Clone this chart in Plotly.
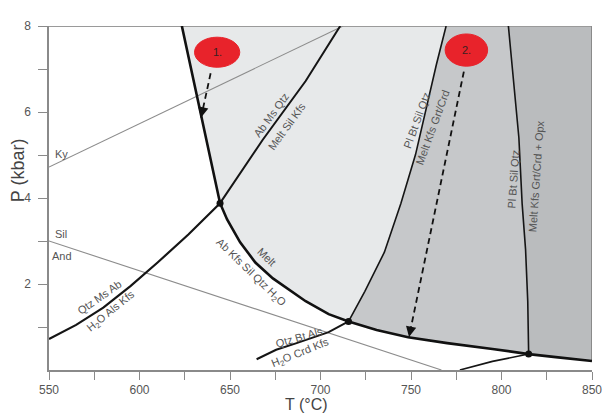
import plotly.graph_objects as go

# ---------------- axes ----------------
T_range = [550, 850]
P_range = [0, 8]
T_ticks = [550, 575, 600, 625, 650, 675, 700, 725, 750, 775, 800, 825, 850]
T_ticklabels = ["550", "", "600", "", "650", "", "700", "", "750", "", "800", "", "850"]
P_ticks = [1, 2, 3, 4, 5, 6, 7, 8]
P_ticklabels = ["", "2", "", "4", "", "6", "", "8"]

# ---------------- reaction curves (T in °C, P in kbar) ----------------
# Melt = Ab Kfs Sil Qtz H2O (solidus) and its continuation
solidus_T = [623.4, 628.5, 633.8, 639.2, 644.5, 648.4, 655.6, 664.0, 673.7, 691.8, 704.5,
             715.5, 731.0, 748.4, 770.0, 795.0, 815.0, 830.0, 850.0]
solidus_P = [8.0, 7.0, 5.9, 4.85, 3.88, 3.5, 2.97, 2.5, 2.13, 1.6, 1.3,
             1.13, 0.93, 0.76, 0.625, 0.49, 0.37, 0.3, 0.21]
inv1, inv2, inv3 = 4, 11, 16   # indices of the invariant points on the solidus

# Qtz Ms Ab + H2O = Als Kfs
ms_low_T = [550.0, 565.0, 580.0, 595.0, 610.0, 627.0, 644.5]
ms_low_P = [0.72, 1.05, 1.45, 1.95, 2.5, 3.15, 3.88]
# Ab Ms Qtz = Melt Sil Kfs
ms_high_T = [644.5, 668.0, 691.8, 710.9]
ms_high_P = [3.88, 5.35, 6.72, 8.0]
# Pl Bt Sil Qtz = Melt Kfs Grt/Crd
grt_T = [715.5, 724.5, 735.3, 744.4, 752.5, 758.5, 764.0, 769.4]
grt_P = [1.13, 1.83, 2.74, 3.87, 5.01, 6.1, 7.1, 8.0]
# Pl Bt Sil Qtz = Melt Kfs Grt/Crd + Opx
opx_T = [803.8, 806.5, 809.6, 811.4, 813.3, 814.5, 815.0]
opx_P = [8.0, 6.8, 5.4, 3.87, 2.8, 1.6, 0.37]
opx_low_T = [815.0, 795.0, 777.0]
opx_low_P = [0.37, 0.2, 0.0]
# Qtz Bt Als + H2O = Crd Kfs
crd_T = [664.7, 675.5, 686.4, 704.5, 715.5]
crd_P = [0.25, 0.47, 0.62, 0.88, 1.13]
# Aluminosilicate triple-point lines
kysil_T = [550.0, 712.5]
kysil_P = [4.72, 8.0]
andsil_T = [550.0, 766.8]
andsil_P = [3.0, 0.0]

# ---------------- P-T path markers ----------------
path_labels = ["1.", "2."]
path_label_T = [642.9, 780.6]
path_label_P = [7.39, 7.44]
path_label_wT = [25.0, 23.5]
path_label_hP = [0.70, 0.75]
path1_T = [639.3, 634.0]
path1_P = [6.9, 5.87]
path2_T = [779.2, 748.9]
path2_P = [6.94, 0.77]

# ---------------- region fills ----------------
light_T = solidus_T[:inv2 + 1] + grt_T[1:]
light_P = solidus_P[:inv2 + 1] + grt_P[1:]
mid_T = grt_T + opx_T + solidus_T[inv2:inv3 + 1][::-1]
mid_P = grt_P + opx_P + solidus_P[inv2:inv3 + 1][::-1]
dark_T = opx_T + solidus_T[inv3:] + [T_range[1]]
dark_P = opx_P + solidus_P[inv3:] + [P_range[1]]

fig = go.Figure()


def fill(xs, ys, color):
    fig.add_trace(go.Scatter(x=xs, y=ys, fill="toself", fillcolor=color, mode="lines",
                             line=dict(width=0), hoverinfo="skip"))


def line(xs, ys, color="#111", width=2.0, dash=None):
    fig.add_trace(go.Scatter(x=xs, y=ys, mode="lines",
                             line=dict(color=color, width=width, dash=dash), hoverinfo="skip"))


fill(light_T, light_P, "#e7e9ea")
fill(mid_T, mid_P, "#c6c8ca")
fill(dark_T, dark_P, "#babcbe")

# frame (top and right)
line(T_range, [P_range[1], P_range[1]], "#9a9a9a", 2)
line([T_range[1], T_range[1]], [solidus_P[-1], P_range[1]], "#8a8a8a", 2)

# aluminosilicate lines
line(kysil_T, kysil_P, "#8c8c8c", 1.1)
line(andsil_T, andsil_P, "#8c8c8c", 1.1)

# reactions
line(ms_low_T, ms_low_P, "#151515", 2.2)
line(ms_high_T, ms_high_P, "#151515", 2.0)
line(grt_T, grt_P, "#151515", 1.6)
line(opx_T, opx_P, "#151515", 1.6)
line(opx_low_T, opx_low_P, "#151515", 1.6)
line(crd_T, crd_P, "#151515", 2.0)
line(solidus_T, solidus_P, "#111", 2.6)

# invariant points
fig.add_trace(go.Scatter(x=[solidus_T[inv1], solidus_T[inv2], solidus_T[inv3]],
                         y=[solidus_P[inv1], solidus_P[inv2], solidus_P[inv3]],
                         mode="markers", marker=dict(color="#111", size=7), hoverinfo="skip"))

# dashed P-T paths with arrowheads (short solid stub under the head)
for pT, pP, frac in [(path1_T, path1_P, 0.12), (path2_T, path2_P, 0.025)]:
    line(pT, pP, "#111", 1.8, "6px,4px")
    fig.add_annotation(x=pT[1], y=pP[1],
                       ax=pT[1] + (pT[0] - pT[1]) * frac, ay=pP[1] + (pP[0] - pP[1]) * frac,
                       xref="x", yref="y", axref="x", ayref="y", text="", showarrow=True,
                       arrowhead=2, arrowsize=1.3, arrowwidth=1.6, arrowcolor="#111", standoff=0)

# red ellipses with labels
for lab, cT, cP, wT, hP in zip(path_labels, path_label_T, path_label_P, path_label_wT, path_label_hP):
    fig.add_shape(type="circle", xref="x", yref="y", x0=cT - wT / 2, x1=cT + wT / 2,
                  y0=cP - hP / 2, y1=cP + hP / 2, fillcolor="#e8232b", line=dict(color="#e8232b", width=1))
    fig.add_annotation(x=cT, y=cP, text=lab, showarrow=False,
                       font=dict(family="Liberation Sans", size=11, color="#3a2020"))

# reaction labels: (text, T, P, angle)
labels = [
    ("Ab Ms Qtz", 672.9, 5.92, -54),
    ("Melt Sil Kfs", 681.5, 5.67, -54),
    ("Pl Bt Sil Qtz", 753.2, 5.82, -70),
    ("Melt Kfs Grt/Crd", 762.0, 5.65, -70),
    ("Pl Bt Sil Qtz", 806.6, 4.44, -86),
    ("Melt Kfs Grt/Crd + Opx", 819.2, 4.51, -86),
    ("Melt", 670.3, 2.62, 44),
    ("Ab Kfs Sil Qtz H<sub>2</sub>O", 661.7, 2.265, 44),
    ("Qtz Ms Ab", 578.0, 1.70, -35),
    ("H<sub>2</sub>O Als Kfs", 584.5, 1.37, -39),
    ("Qtz Bt Als", 688.6, 0.76, -16),
    ("H<sub>2</sub>O Crd Kfs", 689.1, 0.39, -22),
    ("Ky", 556.9, 5.03, 0),
    ("Sil", 556.5, 3.17, 0),
    ("And", 557.0, 2.65, 0),
]
for txt, tT, tP, ang in labels:
    fig.add_annotation(x=tT, y=tP, text=txt, textangle=ang, showarrow=False,
                       font=dict(family="Liberation Sans", size=11, color="#555"))

# axis titles
fig.add_annotation(xref="paper", yref="paper", x=-0.057, y=0.581, xanchor="center", yanchor="middle",
                   text="P (kbar)", textangle=-90, showarrow=False,
                   font=dict(family="Liberation Sans", size=18, color="#444"))
fig.add_annotation(xref="paper", yref="paper", x=0.475, y=-0.0997, xanchor="center", yanchor="middle",
                   text="T (°C)", showarrow=False,
                   font=dict(family="Liberation Sans", size=16, color="#444"))

axis_common = dict(showgrid=False, zeroline=False, showline=True, linecolor="#8a8a8a", linewidth=1.5,
                   ticks="outside", tickcolor="#8a8a8a", tickwidth=1.3,
                   tickfont=dict(family="Liberation Sans", size=12, color="#555"))
fig.update_xaxes(range=T_range, tickvals=T_ticks, ticktext=T_ticklabels, ticklen=8, **axis_common)
fig.update_yaxes(range=P_range, tickvals=P_ticks, ticktext=P_ticklabels, ticklen=9,
                 ticklabelstandoff=5, **axis_common)

# the page body adds an 8px margin, so the figure is 8px smaller than the window
fig.update_layout(width=605, height=406, margin=dict(l=41, r=12, t=11, b=44),
                  paper_bgcolor="white", plot_bgcolor="white", showlegend=False)

fig.write_html("out.html")
